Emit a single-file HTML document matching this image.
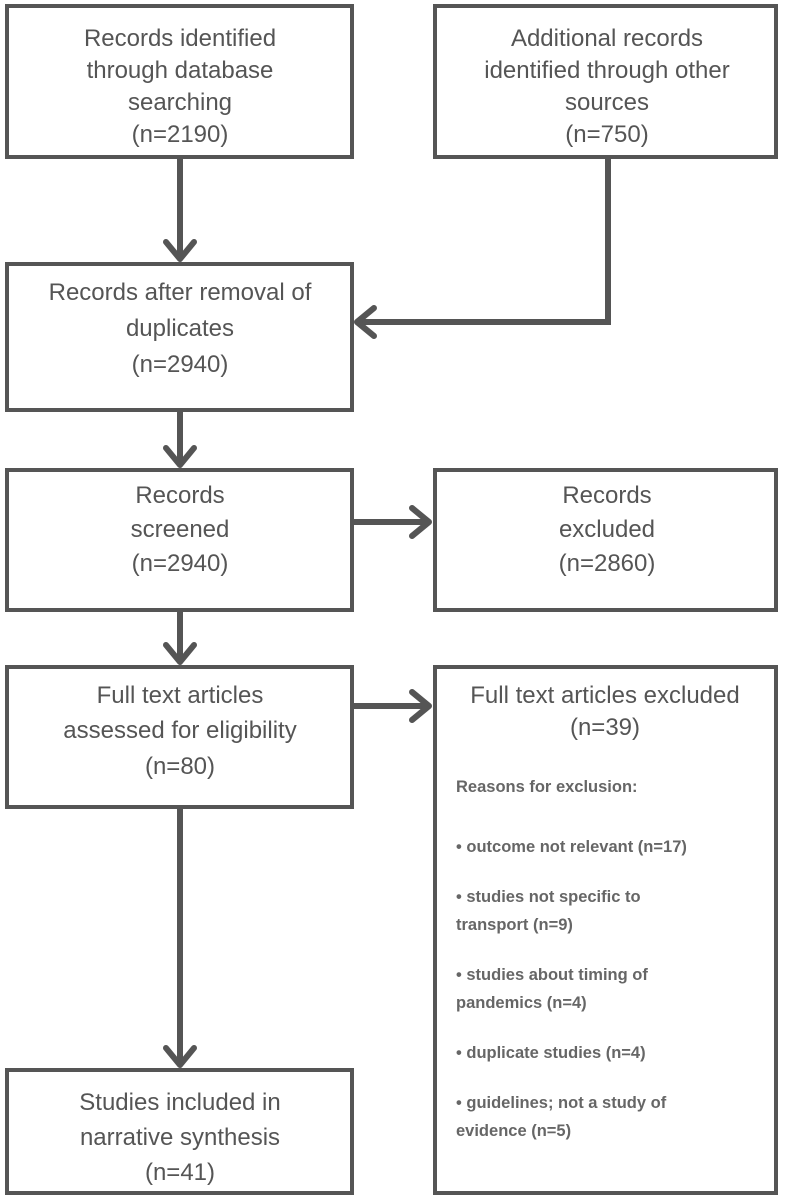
<!DOCTYPE html>
<html><head><meta charset="utf-8"><style>
html,body{margin:0;padding:0;background:#fff;}
svg{display:block;}
text{font-family:"Liberation Sans",sans-serif;fill:#555;}
.t{font-size:24px;text-anchor:middle;}
.s{font-size:16.5px;font-weight:bold;fill:#666;}
rect{fill:#fff;stroke:#555;stroke-width:4;}
.l{stroke:#555;stroke-width:6;fill:none;}
.h{stroke:#555;stroke-width:6;fill:none;stroke-linecap:round;stroke-linejoin:round;}
</style></head><body>
<svg width="789" height="1199" viewBox="0 0 789 1199">
<rect x="7" y="6" width="345" height="151"/>
<rect x="435" y="6" width="341" height="151"/>
<rect x="7" y="264" width="345" height="146"/>
<rect x="7" y="470" width="345" height="140"/>
<rect x="435" y="470" width="341" height="140"/>
<rect x="7" y="667" width="345" height="140"/>
<rect x="435" y="667" width="341" height="526"/>
<rect x="7" y="1070" width="345" height="123"/>

<line class="l" x1="180" y1="159" x2="180" y2="258"/>
<polyline class="h" points="166,242 180,259 194,242"/>
<polyline class="l" points="608,159 608,322 358,322"/>
<polyline class="h" points="374,308 357,322 374,336"/>
<line class="l" x1="180" y1="412" x2="180" y2="464"/>
<polyline class="h" points="166,448 180,465 194,448"/>
<line class="l" x1="354" y1="522" x2="428" y2="522"/>
<polyline class="h" points="412,508 429,522 412,536"/>
<line class="l" x1="180" y1="612" x2="180" y2="661"/>
<polyline class="h" points="166,645 180,662 194,645"/>
<line class="l" x1="354" y1="706" x2="428" y2="706"/>
<polyline class="h" points="412,692 429,706 412,720"/>
<line class="l" x1="180" y1="809" x2="180" y2="1064"/>
<polyline class="h" points="166,1048 180,1065 194,1048"/>

<text class="t" x="180" y="46">Records identified</text>
<text class="t" x="180" y="78">through database</text>
<text class="t" x="180" y="110">searching</text>
<text class="t" x="180" y="142">(n=2190)</text>
<text class="t" x="607" y="46">Additional records</text>
<text class="t" x="607" y="78">identified through other</text>
<text class="t" x="607" y="110">sources</text>
<text class="t" x="607" y="142">(n=750)</text>

<text class="t" x="180" y="300">Records after removal of</text>
<text class="t" x="180" y="336">duplicates</text>
<text class="t" x="180" y="372">(n=2940)</text>

<text class="t" x="180" y="503">Records</text>
<text class="t" x="180" y="537">screened</text>
<text class="t" x="180" y="571">(n=2940)</text>
<text class="t" x="607" y="503">Records</text>
<text class="t" x="607" y="537">excluded</text>
<text class="t" x="607" y="571">(n=2860)</text>

<text class="t" x="180" y="703">Full text articles</text>
<text class="t" x="180" y="738">assessed for eligibility</text>
<text class="t" x="180" y="774">(n=80)</text>
<text class="t" x="605" y="703">Full text articles excluded</text>
<text class="t" x="605" y="735">(n=39)</text>

<text class="s" x="456" y="792">Reasons for exclusion:</text>
<text class="s" x="456" y="852">• outcome not relevant (n=17)</text>
<text class="s" x="456" y="902">• studies not specific to</text>
<text class="s" x="456" y="930">transport (n=9)</text>
<text class="s" x="456" y="980">• studies about timing of</text>
<text class="s" x="456" y="1008">pandemics  (n=4)</text>
<text class="s" x="456" y="1058">• duplicate studies (n=4)</text>
<text class="s" x="456" y="1108">• guidelines; not a study of</text>
<text class="s" x="456" y="1136">evidence (n=5)</text>

<text class="t" x="180" y="1110">Studies included in</text>
<text class="t" x="180" y="1145">narrative synthesis</text>
<text class="t" x="180" y="1180">(n=41)</text>
</svg>
</body></html>
